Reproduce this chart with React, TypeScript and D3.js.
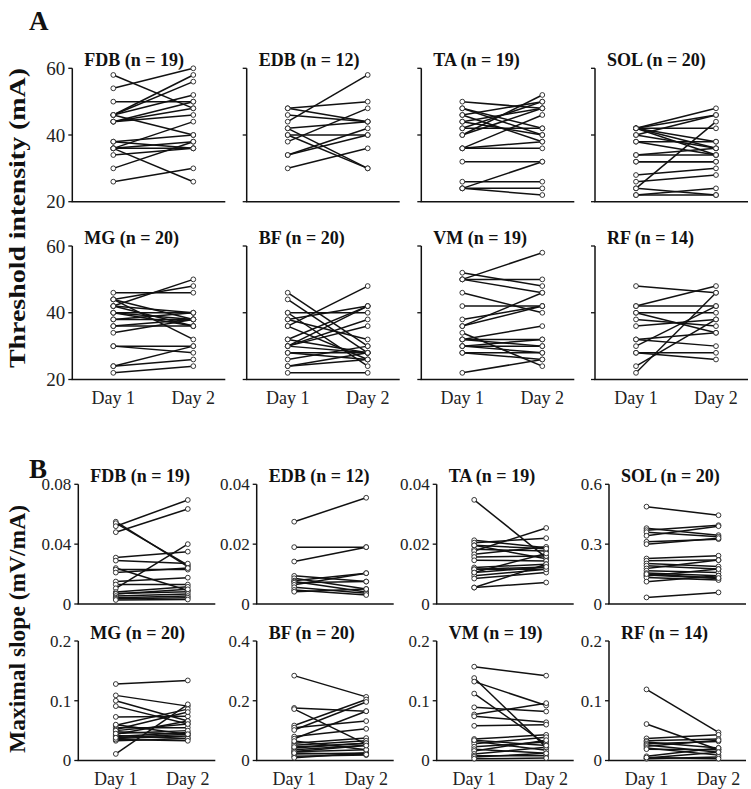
import React from "react";
import * as d3 from "d3";

const muscles = ["FDB", "EDB", "TA", "SOL", "MG", "BF", "VM", "RF"];
const counts = [19, 12, 19, 20, 20, 20, 19, 14];
const days = ["Day 1", "Day 2"];

// Threshold intensity (mA): Day 1 / Day 2 pairs
const thrFDB1 = [58, 54, 50, 46, 46, 46, 46, 44, 44, 38, 36, 36, 36, 36, 34, 30, 26, 44, 38];
const thrFDB2 = [48, 60, 50, 58, 56, 52, 40, 46, 50, 40, 44, 36, 38, 26, 36, 38, 30, 48, 36];
const thrEDB1 = [48, 48, 46, 44, 42, 40, 40, 38, 34, 34, 30, 42];
const thrEDB2 = [50, 44, 44, 58, 30, 40, 30, 48, 42, 40, 36, 44];
const thrTA1 = [50, 48, 48, 46, 46, 44, 44, 42, 42, 40, 40, 36, 36, 36, 32, 26, 24, 24, 24];
const thrTA2 = [48, 42, 40, 50, 38, 48, 40, 50, 42, 52, 48, 46, 38, 36, 32, 26, 32, 24, 22];
const thrSOL1 = [42, 42, 42, 42, 42, 42, 40, 40, 38, 38, 34, 34, 32, 28, 26, 24, 24, 22, 22, 32];
const thrSOL2 = [48, 46, 42, 38, 36, 34, 46, 36, 38, 34, 36, 34, 32, 30, 28, 44, 22, 24, 22, 32];
const thrMG1 = [46, 44, 44, 44, 42, 42, 42, 40, 40, 40, 38, 38, 36, 34, 30, 30, 24, 24, 22, 36];
const thrMG2 = [46, 48, 38, 32, 50, 40, 36, 38, 40, 36, 40, 38, 36, 38, 30, 28, 30, 26, 24, 38];
const thrBF1 = [46, 44, 40, 40, 38, 38, 36, 36, 32, 32, 30, 30, 30, 30, 28, 28, 26, 24, 24, 22];
const thrBF2 = [30, 28, 40, 24, 42, 32, 48, 26, 42, 28, 42, 38, 36, 28, 28, 26, 30, 28, 26, 22];
const thrVM1 = [52, 50, 50, 50, 46, 42, 38, 36, 36, 34, 32, 32, 30, 30, 30, 28, 28, 22, 32];
const thrVM2 = [48, 58, 50, 46, 40, 42, 42, 46, 42, 24, 36, 32, 32, 30, 28, 28, 26, 26, 30];
const thrRF1 = [48, 42, 42, 40, 40, 38, 36, 32, 32, 30, 28, 28, 24, 22];
const thrRF2 = [46, 48, 42, 40, 34, 36, 38, 34, 30, 42, 28, 26, 38, 46];

// Maximal slope (mV/mA): Day 1 / Day 2 pairs
const slpFDB1 = [0.055, 0.054, 0.052, 0.048, 0.031, 0.029, 0.024, 0.023, 0.021, 0.015, 0.013, 0.0105, 0.008, 0.007, 0.0067, 0.0053, 0.0042, 0.0035, 0.0027];
const slpFDB2 = [0.025, 0.026, 0.0695, 0.0635, 0.035, 0.027, 0.009, 0.023, 0.024, 0.0176, 0.013, 0.04, 0.0115, 0.0082, 0.0098, 0.0067, 0.0053, 0.0042, 0.003];
const slpEDB1 = [0.0275, 0.019, 0.0142, 0.0094, 0.0086, 0.0078, 0.0075, 0.0071, 0.0064, 0.0056, 0.0047, 0.0041];
const slpEDB2 = [0.0355, 0.019, 0.019, 0.0075, 0.005, 0.0103, 0.004, 0.0075, 0.0103, 0.0036, 0.003, 0.005];
const slpTA1 = [0.0348, 0.0213, 0.0205, 0.0196, 0.0183, 0.0177, 0.0166, 0.0157, 0.0146, 0.0122, 0.0116, 0.0105, 0.0094, 0.0085, 0.0055, 0.0055, 0.0116, 0.0105, 0.0196];
const slpTA2 = [0.0155, 0.0188, 0.022, 0.0151, 0.0177, 0.0254, 0.0191, 0.016, 0.0144, 0.0133, 0.0124, 0.0169, 0.0116, 0.0105, 0.0133, 0.0072, 0.0116, 0.0124, 0.0185];
const slpSOL1 = [0.488, 0.38, 0.37, 0.36, 0.342, 0.312, 0.3, 0.228, 0.217, 0.203, 0.192, 0.178, 0.167, 0.155, 0.145, 0.14, 0.133, 0.112, 0.15, 0.033];
const slpSOL2 = [0.445, 0.345, 0.395, 0.337, 0.39, 0.325, 0.33, 0.242, 0.22, 0.188, 0.175, 0.22, 0.158, 0.142, 0.128, 0.175, 0.12, 0.142, 0.13, 0.058];
const slpMG1 = [0.128, 0.109, 0.1, 0.091, 0.073, 0.059, 0.055, 0.052, 0.048, 0.044, 0.04, 0.037, 0.033, 0.011, 0.06, 0.05, 0.042, 0.035, 0.045, 0.038];
const slpMG2 = [0.134, 0.091, 0.066, 0.061, 0.074, 0.086, 0.055, 0.081, 0.044, 0.066, 0.047, 0.041, 0.037, 0.094, 0.044, 0.061, 0.037, 0.033, 0.05, 0.044];
const slpBF1 = [0.284, 0.176, 0.172, 0.117, 0.11, 0.102, 0.08, 0.073, 0.058, 0.051, 0.042, 0.036, 0.029, 0.022, 0.014, 0.009, 0.065, 0.045, 0.03, 0.025];
const slpBF2 = [0.213, 0.165, 0.055, 0.204, 0.132, 0.196, 0.106, 0.165, 0.075, 0.066, 0.058, 0.051, 0.036, 0.025, 0.018, 0.025, 0.036, 0.058, 0.05, 0.02];
const slpVM1 = [0.157, 0.138, 0.132, 0.112, 0.089, 0.077, 0.074, 0.058, 0.036, 0.032, 0.028, 0.023, 0.019, 0.016, 0.011, 0.008, 0.006, 0.003, 0.034];
const slpVM2 = [0.142, 0.022, 0.092, 0.027, 0.082, 0.096, 0.064, 0.06, 0.043, 0.017, 0.039, 0.031, 0.012, 0.034, 0.022, 0.008, 0.012, 0.004, 0.025];
const slpRF1 = [0.119, 0.061, 0.037, 0.033, 0.031, 0.028, 0.026, 0.024, 0.021, 0.019, 0.007, 0.004, 0.003, 0.005];
const slpRF2 = [0.047, 0.018, 0.043, 0.036, 0.021, 0.032, 0.014, 0.034, 0.009, 0.018, 0.021, 0.014, 0.006, 0.003];

const thrTicks = [20, 40, 60];
const slpTicks = [
  [0, 0.04, 0.08],
  [0, 0.02, 0.04],
  [0, 0.02, 0.04],
  [0, 0.3, 0.6],
  [0, 0.1, 0.2],
  [0, 0.2, 0.4],
  [0, 0.1, 0.2],
  [0, 0.1, 0.2],
];
const slpTickLabels = [
  ["0", "0.04", "0.08"],
  ["0", "0.02", "0.04"],
  ["0", "0.02", "0.04"],
  ["0", "0.3", "0.6"],
  ["0", "0.1", "0.2"],
  ["0", "0.2", "0.4"],
  ["0", "0.1", "0.2"],
  ["0", "0.1", "0.2"],
];

const thrDay1 = [thrFDB1, thrEDB1, thrTA1, thrSOL1, thrMG1, thrBF1, thrVM1, thrRF1];
const thrDay2 = [thrFDB2, thrEDB2, thrTA2, thrSOL2, thrMG2, thrBF2, thrVM2, thrRF2];
const slpDay1 = [slpFDB1, slpEDB1, slpTA1, slpSOL1, slpMG1, slpBF1, slpVM1, slpRF1];
const slpDay2 = [slpFDB2, slpEDB2, slpTA2, slpSOL2, slpMG2, slpBF2, slpVM2, slpRF2];

const FONT = '"Liberation Serif", "Times New Roman", Times, serif';

type PanelProps = {
  x0: number;
  top: number;
  bottom: number;
  width: number;
  dx1: number;
  dx2: number;
  ticks: number[];
  tickLabels: string[] | null;
  tickFont: number;
  title: string;
  d1: number[];
  d2: number[];
  showDays: boolean;
};

function Panel(p: PanelProps) {
  const y = d3
    .scaleLinear()
    .domain([p.ticks[0], p.ticks[p.ticks.length - 1]])
    .range([p.bottom, p.top]);
  const x = d3
    .scalePoint<string>()
    .domain(days)
    .range([p.x0 + p.dx1, p.x0 + p.dx2])
    .padding(0);
  const line = d3
    .line<[string, number]>()
    .x((d) => x(d[0]) as number)
    .y((d) => y(d[1]));
  return (
    <g>
      <line x1={p.x0} x2={p.x0} y1={p.top} y2={p.bottom} stroke="#111" strokeWidth={1.5} />
      <line x1={p.x0 - 0.75} x2={p.x0 + p.width} y1={p.bottom} y2={p.bottom} stroke="#111" strokeWidth={1.5} />
      {p.ticks.map((t, i) => (
        <g key={"t" + i}>
          <line x1={p.x0 - 4} x2={p.x0} y1={y(t)} y2={y(t)} stroke="#111" strokeWidth={1.3} />
          {p.tickLabels && (
            <text
              x={p.x0 - 7}
              y={y(t)}
              dy="0.35em"
              textAnchor="end"
              fontSize={p.tickFont}
              fontFamily={FONT}
              fill="#222"
            >
              {p.tickLabels[i]}
            </text>
          )}
        </g>
      ))}
      {p.d1.map((v, i) => (
        <path
          key={"l" + i}
          d={line([
            [days[0], v],
            [days[1], p.d2[i]],
          ]) as string}
          fill="none"
          stroke="#111"
          strokeWidth={1.5}
        />
      ))}
      {p.d1.map((v, i) => (
        <circle key={"a" + i} cx={x(days[0])} cy={y(v)} r={2.4} fill="#fff" stroke="#222" strokeWidth={0.9} />
      ))}
      {p.d2.map((v, i) => (
        <circle key={"b" + i} cx={x(days[1])} cy={y(v)} r={2.4} fill="#fff" stroke="#222" strokeWidth={0.9} />
      ))}
      <text x={p.x0 + 12} y={p.top - 2} fontSize={18} fontWeight="bold" fontFamily={FONT} fill="#111">
        {p.title}
      </text>
      {p.showDays &&
        days.map((d) => (
          <text
            key={d}
            x={x(d)}
            y={p.bottom + 24}
            textAnchor="middle"
            fontSize={18}
            fontFamily={FONT}
            fill="#222"
          >
            {d}
          </text>
        ))}
    </g>
  );
}

const aAxisX = [72.3, 246.7, 421.3, 595];
const aRows = [
  { top: 68.3, bottom: 201.7 },
  { top: 246, bottom: 379.5 },
];
const bAxisX = [78.3, 256.7, 436.7, 609];
const bRows = [
  { top: 484.3, bottom: 604 },
  { top: 641, bottom: 760.5 },
];

export default function App() {
  return (
    <svg
      width={751}
      height={789}
      style={{ position: "absolute", left: 0, top: 0, background: "#fff" }}
    >
      <rect width={751} height={789} fill="#fff" />
      <text x={29} y={30} fontSize={27} fontWeight="bold" fontFamily={FONT} fill="#111">
        A
      </text>
      <text x={29} y={478} fontSize={27} fontWeight="bold" fontFamily={FONT} fill="#111">
        B
      </text>
      <text
        transform="translate(25,218) rotate(-90)"
        textAnchor="middle"
        fontSize={23}
        fontWeight="bold"
        fontFamily={FONT}
        textLength={300}
        lengthAdjust="spacingAndGlyphs"
        fill="#111"
      >
        Threshold intensity (mA)
      </text>
      <text
        transform="translate(25,629) rotate(-90)"
        textAnchor="middle"
        fontSize={23}
        fontWeight="bold"
        fontFamily={FONT}
        textLength={248}
        lengthAdjust="spacingAndGlyphs"
        fill="#111"
      >
        Maximal slope (mV/mA)
      </text>
      {muscles.map((m, i) => {
        const col = i % 4;
        const row = Math.floor(i / 4);
        return (
          <Panel
            key={"A" + m}
            x0={aAxisX[col]}
            top={aRows[row].top}
            bottom={aRows[row].bottom}
            width={153}
            dx1={41}
            dx2={121}
            ticks={thrTicks}
            tickLabels={col === 0 ? thrTicks.map(String) : null}
            tickFont={19}
            title={`${m} (n = ${counts[i]})`}
            d1={thrDay1[i]}
            d2={thrDay2[i]}
            showDays={row === 1}
          />
        );
      })}
      {muscles.map((m, i) => {
        const col = i % 4;
        const row = Math.floor(i / 4);
        return (
          <Panel
            key={"B" + m}
            x0={bAxisX[col]}
            top={bRows[row].top}
            bottom={bRows[row].bottom}
            width={137}
            dx1={37.5}
            dx2={109.5}
            ticks={slpTicks[i]}
            tickLabels={slpTickLabels[i]}
            tickFont={17}
            title={`${m} (n = ${counts[i]})`}
            d1={slpDay1[i]}
            d2={slpDay2[i]}
            showDays={row === 1}
          />
        );
      })}
    </svg>
  );
}
